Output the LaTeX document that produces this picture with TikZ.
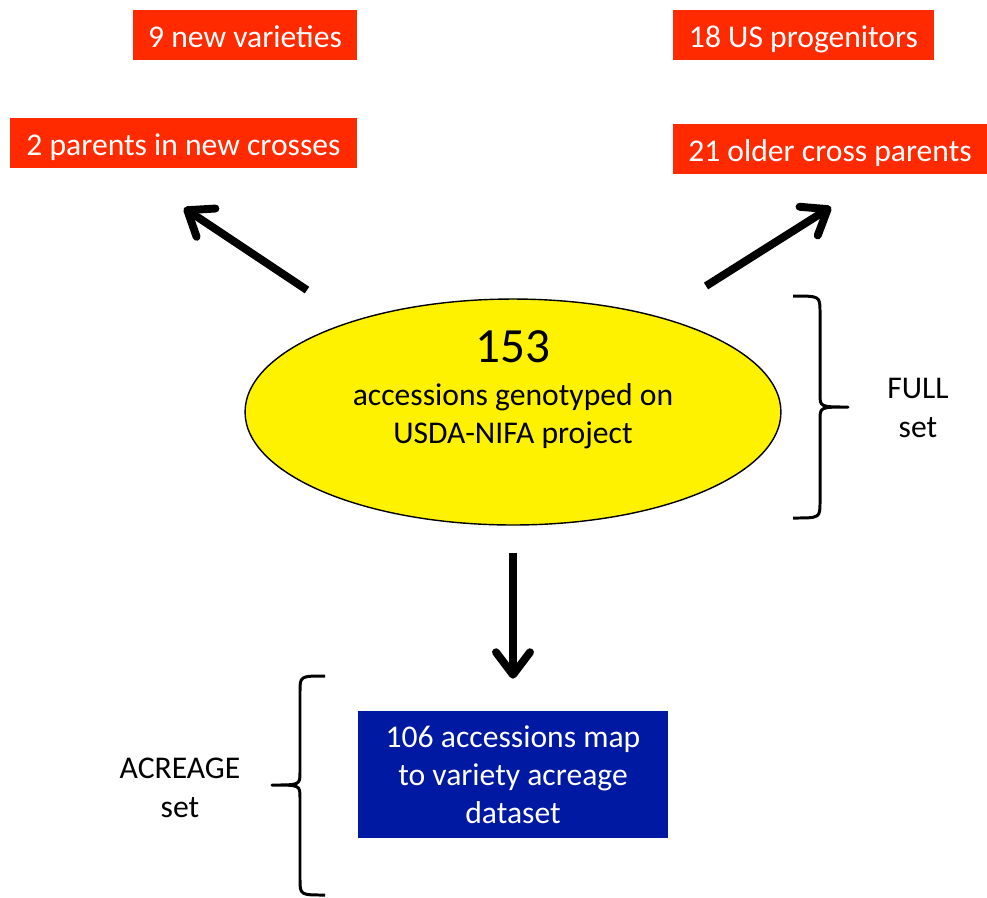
\documentclass[tikz,border=0pt]{standalone}
\usepackage{fontspec}
\setmainfont{Carlito}
\usepackage{tikz}
\usetikzlibrary{arrows.meta}
\usetikzlibrary{shapes}
\definecolor{boxred}{RGB}{255,42,0}
\definecolor{boxblue}{RGB}{0,25,163}

\begin{document}
\begin{tikzpicture}[x=0.02cm, y=-0.02cm, >={Straight Barb[length=4.5mm,width=6.8mm,round]}]
                \tikzstyle{redbox} = [fill=boxred, text=white, font=\fontsize{18}{22}\selectfont, minimum height=1cm, text height=0.5cm, text depth=0cm, inner sep=0pt]
                \tikzstyle{bluebox} = [fill=boxblue, text=white, font=\fontsize{18}{21.5}\selectfont, align=center, minimum width=6.2cm, minimum height=2.54cm, inner sep=0pt]
                \tikzstyle{oval} = [draw, line width=0.8pt, fill=yellow, ellipse, minimum width=10.72cm, minimum height=4.52cm, inner sep=0pt]
                \tikzstyle{words} = [font=\fontsize{18}{22}\selectfont, align=center, inner sep=0pt]
                \tikzstyle{bigarrow} = [->, line width=4.5pt]
                \tikzstyle{bracket} = [line width=1.7pt, line join=round]
                \useasboundingbox (0,0) rectangle (987,897);
                        \begin{scope}
                                \path
                                node[redbox, minimum width=4.48cm] (newvar) at (245,35) {9 new varieties}
                                node[redbox, minimum width=6.94cm] (newpar) at (183.5,143) {2 parents in new crosses}
                                node[redbox, minimum width=5.22cm] (usprog) at (803.5,35) {18 US progenitors}
                                node[redbox, minimum width=6.28cm] (oldpar) at (830,149) {21 older cross parents}
                                node[oval] (full) at (513,412) {}
                                node[words] (fulltext) at (513,390) {{\fontsize{28}{30}\selectfont 153}\\[2pt] accessions genotyped on\\ USDA-NIFA project}
                                node[bluebox] (acre) at (513,774.5) {106 accessions map\\ to variety acreage\\ dataset}
                                node[words] (fulllab) at (918,408) {FULL\\ set}
                                node[words] (acrelab) at (180,788) {ACREAGE\\ set}
                                ;

                                % Arrow ends
                                \coordinate (lefttail) at (307,290);
                                \coordinate (lefthead) at (184,208);
                                \coordinate (righttail) at (706,286);
                                \coordinate (righthead) at (831,207);

                                \draw[bigarrow] (lefttail) -- (lefthead);
                                \draw[bigarrow] (righttail) -- (righthead);
                                \draw[bigarrow, shorten <=0.54cm, shorten >=0.64cm] (full) -- (acre);

                                % Braces
                                \coordinate (fulltop) at (793,296);
                                \coordinate (fulltip) at (848,407);
                                \coordinate (fullbot) at (793,518);
                                \coordinate (acretop) at (325,676);
                                \coordinate (acretip) at (272,785);
                                \coordinate (acrebot) at (325,895);
                                \draw[bracket] (fulltop) .. controls (820,296) .. (820,312) -- (820,394)
                                        .. controls (820,407) .. (fulltip) .. controls (820,407) .. (820,420)
                                        -- (820,502) .. controls (820,518) .. (fullbot);
                                \draw[bracket] (acretop) .. controls (300,676) .. (300,692) -- (300,772)
                                        .. controls (300,785) .. (acretip) .. controls (300,785) .. (300,798)
                                        -- (300,879) .. controls (300,895) .. (acrebot);
                        \end{scope}
                \end{tikzpicture}
\end{document}
